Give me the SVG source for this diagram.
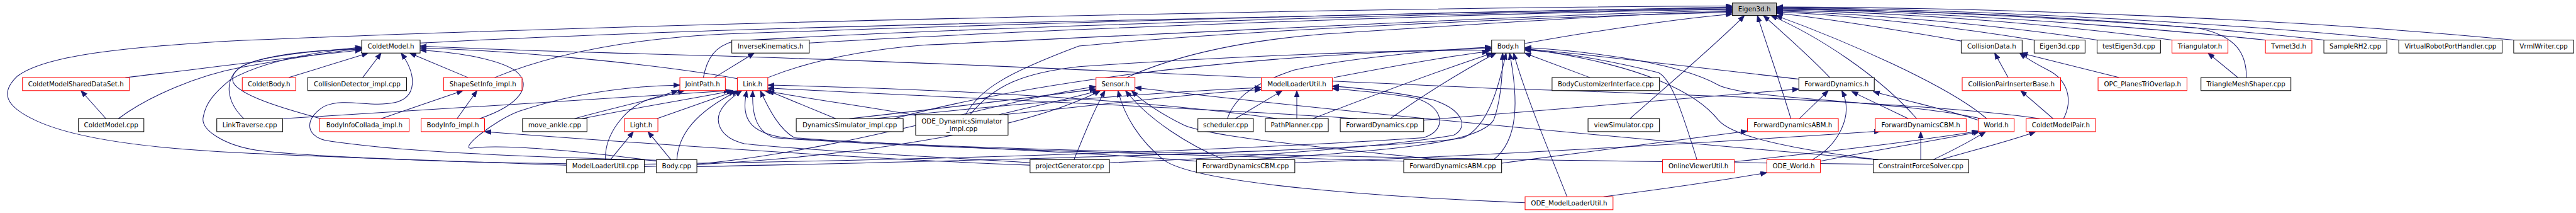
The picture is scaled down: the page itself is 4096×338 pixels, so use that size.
<svg xmlns="http://www.w3.org/2000/svg" width="4096" height="338" viewBox="0 0 4096 338">
<style>
.n rect{fill:#fff;stroke:#000;stroke-width:1.3}
.r rect{stroke:#f00}
.g rect{fill:#bfbfbf}
text{font-family:"DejaVu Sans",Verdana,sans-serif;font-size:13px;fill:#000;text-anchor:middle}
.e path{fill:none;stroke:#191970;stroke-width:1.3;marker-end:url(#ah)}
</style>
<defs>
<marker id="ah" markerUnits="userSpaceOnUse" markerWidth="14" markerHeight="11" refX="13" refY="5" orient="auto" viewBox="0 0 14 11">
<path d="M0,0 L13,5 L0,10 Z" fill="#191970" stroke="#191970" stroke-width="1"/>
</marker>
</defs>
<rect width="4096" height="338" fill="#fff"/>
<g transform="scale(0.7943)">
<g id="edges" class="e">
<path d="M1134,330 C900,322 600,312 440,303 C300,295 150,278 70,240 C10,212 0,185 35,152 C90,110 250,95 440,83 C1200,48 2800,14 3468,12"/>
<path d="M841,86 C1100,72 1500,58 1900,48 C2600,32 3200,16 3468,14"/>
<path d="M990,155 C1100,110 1250,78 1450,68 C2100,45 3000,20 3468,16"/>
<path d="M1408,155 C1415,118 1430,92 1470,82 C1900,56 3000,22 3468,18"/>
<path d="M1620,86 C2000,62 3000,24 3468,19"/>
<path d="M1537,155 C1600,130 1700,102 1850,90 C2500,60 3150,26 3468,21"/>
<path d="M2255,155 C2350,112 2480,82 2650,68 C3000,45 3300,26 3468,23"/>
<path d="M1933,229 C1960,180 2010,148 2160,92 C2500,58 3200,30 3468,25"/>
<path d="M3052,87 C3200,60 3380,35 3468,28"/>
<path d="M3263,237 C3350,160 3445,80 3492,31"/>
<path d="M3663,155 C3620,110 3565,62 3530,31"/>
<path d="M3585,237 C3562,160 3535,85 3518,31"/>
<path d="M3837,237 C3760,150 3640,72 3545,31"/>
<path d="M3977,237 C3900,170 3690,80 3555,31"/>
<path d="M3926,82 C3800,60 3650,36 3556,26"/>
<path d="M4072,80 C3900,52 3700,30 3556,24"/>
<path d="M4198,80 C4000,50 3750,28 3556,22"/>
<path d="M4348,80 C4100,46 3800,25 3556,20"/>
<path d="M4497,155 C4497,110 4480,72 4400,56 C4100,30 3800,20 3556,19"/>
<path d="M4535,80 C4200,45 3800,22 3556,17"/>
<path d="M4652,80 C4300,40 3800,20 3556,16"/>
<path d="M4802,80 C4400,40 3900,18 3556,15"/>
<path d="M5032,80 C4600,38 4000,15 3556,14"/>
<path d="M251,155 C380,140 600,112 724,100"/>
<path d="M212,237 L162,181"/>
<path d="M237,237 C300,190 400,150 480,135 C580,117 660,104 724,97"/>
<path d="M578,155 L737,106"/>
<path d="M726,155 L763,106"/>
<path d="M488,237 C455,205 445,160 483,133 C530,110 620,100 724,98"/>
<path d="M642,237 C560,215 480,190 467,165 C460,145 480,128 530,117 C600,104 680,98 724,96"/>
<path d="M960,237 C1040,210 1070,170 1030,140 C990,115 900,103 841,100"/>
<path d="M937,155 L820,106"/>
<path d="M1476,157 C1300,125 1000,100 841,96"/>
<path d="M1314,320 C1100,315 800,305 650,280 C610,270 610,235 650,212 C690,195 740,215 790,205 C835,195 835,150 803,106"/>
<path d="M1134,327 C900,325 600,312 513,300 C450,290 400,260 407,233 C412,205 430,185 460,160 C520,125 620,105 724,94"/>
<path d="M4083,237 C3900,210 3500,192 3000,177 C2500,155 1800,120 1300,108 C1100,102 950,98 841,92"/>
<path d="M763,237 L927,181"/>
<path d="M915,237 L955,181"/>
<path d="M1314,322 C1150,300 1000,288 945,296 C915,300 990,240 1040,222 C1150,185 1260,172 1361,170"/>
<path d="M1212,319 C1210,270 1250,215 1300,198 C1320,192 1340,187 1357,181"/>
<path d="M1430,155 L1510,106"/>
<path d="M1150,237 C1250,210 1320,195 1370,181"/>
<path d="M567,237 C800,220 1200,200 1462,181"/>
<path d="M1165,237 C1300,210 1400,195 1468,181"/>
<path d="M1315,237 L1472,182"/>
<path d="M1355,319 C1358,270 1390,225 1478,181"/>
<path d="M2062,325 C1900,315 1600,300 1490,287 C1440,275 1425,240 1450,210 C1460,198 1472,190 1485,181"/>
<path d="M2395,322 C2200,305 1800,288 1600,278 C1500,272 1482,240 1495,181"/>
<path d="M2810,322 C2400,310 1800,295 1550,275 C1510,262 1505,220 1507,181"/>
<path d="M3750,328 C3000,320 1900,302 1590,275 C1560,258 1540,220 1522,181"/>
<path d="M1673,237 L1537,181"/>
<path d="M1835,231 C1750,215 1620,198 1530,181"/>
<path d="M2557,237 C2300,200 1900,178 1537,170"/>
<path d="M2717,237 C2400,215 1900,195 1537,176"/>
<path d="M1222,319 L1268,263"/>
<path d="M1343,319 L1297,263"/>
<path d="M1700,237 C1900,215 2100,190 2194,178"/>
<path d="M1395,328 C1700,300 2000,200 2194,173"/>
<path d="M2000,229 C2080,210 2150,195 2200,181"/>
<path d="M2150,319 C2170,270 2190,220 2212,181"/>
<path d="M3053,405 C2800,395 2400,370 2330,320 C2280,280 2250,230 2238,181"/>
<path d="M2450,319 C2380,290 2300,240 2253,181"/>
<path d="M2880,319 C2600,290 2420,272 2370,250 C2320,225 2290,205 2265,181"/>
<path d="M3760,319 C3300,280 2700,225 2272,175"/>
<path d="M1290,333 C1700,320 2050,260 2203,181"/>
<path d="M2473,237 L2567,181"/>
<path d="M2596,237 L2596,181"/>
<path d="M1290,328 C1800,320 2400,305 2850,275 C2900,260 2890,210 2830,195 C2760,185 2710,180 2667,177"/>
<path d="M2221,325 C2500,315 2800,290 2910,270 C2940,255 2930,220 2870,200 C2800,185 2720,176 2667,172"/>
<path d="M1750,237 C2000,210 2300,185 2525,175"/>
<path d="M2010,229 C2200,210 2400,185 2525,179"/>
<path d="M2670,155 C2800,130 2900,112 2980,103"/>
<path d="M3183,155 L3052,106"/>
<path d="M1395,333 C2000,320 2800,300 2930,275 C2985,250 3005,150 3015,106"/>
<path d="M2783,237 C2850,190 2930,140 2995,106"/>
<path d="M2628,237 C2750,190 2900,135 2988,106"/>
<path d="M1790,237 C2000,180 2400,110 2986,97"/>
<path d="M1942,229 C1990,170 2050,145 2160,133 C2500,110 2800,100 2986,100"/>
<path d="M3137,393 C3100,300 3050,180 3030,106"/>
<path d="M3397,319 C3360,200 3343,157 3320,145 C3200,115 3100,102 3052,100"/>
<path d="M2990,319 C3040,280 3040,200 3022,106"/>
<path d="M3760,319 C3600,300 3470,275 3440,240 C3400,190 3300,130 3052,97"/>
<path d="M3965,237 C3800,200 3500,200 3440,170 C3350,120 3150,100 3052,95"/>
<path d="M3601,158 C3400,135 3150,105 3052,98"/>
<path d="M2457,237 C2470,200 2500,170 2590,140 C2700,115 2900,98 2986,94"/>
<path d="M2500,319 C2800,300 2960,285 2990,240 C3005,200 3008,150 3008,106"/>
<path d="M3602,237 L3660,181"/>
<path d="M3820,237 L3707,183"/>
<path d="M3628,319 C3680,290 3712,230 3687,181"/>
<path d="M3960,240 C3900,220 3800,197 3750,183"/>
<path d="M2850,240 C3200,210 3450,190 3601,178"/>
<path d="M3006,326 C3200,300 3400,275 3498,262"/>
<path d="M2592,325 C3000,310 3500,280 3765,262"/>
<path d="M3845,319 L3845,263"/>
<path d="M3870,319 C3910,300 3945,282 3975,263"/>
<path d="M3644,322 C3750,300 3880,280 3963,263"/>
<path d="M3472,323 C3650,305 3850,280 3960,262"/>
<path d="M3885,319 C3950,300 4030,280 4075,263"/>
<path d="M4020,155 L3993,106"/>
<path d="M4131,237 C4150,200 4140,160 4100,140 C4070,125 4055,115 4043,106"/>
<path d="M4242,155 L4046,106"/>
<path d="M4110,237 L4045,181"/>
<path d="M4480,155 L4420,106"/>
<path d="M3210,393 C3350,375 3450,360 3537,345"/>
<path d="M2062,330 C1800,320 1400,295 970,263"/>
</g>
<g id="n_eigen3d_h" class="n g"><rect x="3468" y="6" width="88" height="25"/><text x="3512" y="23">Eigen3d.h</text></g>
<g id="n_coldetmodel_h" class="n"><rect x="724" y="80" width="117" height="26"/><text x="782.5" y="97.5">ColdetModel.h</text></g>
<g id="n_inversekinematics_h" class="n"><rect x="1465" y="80" width="155" height="26"/><text x="1542.5" y="97.5">InverseKinematics.h</text></g>
<g id="n_body_h" class="n"><rect x="2986" y="80" width="66" height="26"/><text x="3019" y="97.5">Body.h</text></g>
<g id="n_collisiondata_h" class="n"><rect x="3926" y="80" width="122" height="26"/><text x="3987" y="97.5">CollisionData.h</text></g>
<g id="n_eigen3d_cpp" class="n"><rect x="4072" y="80" width="102" height="26"/><text x="4123" y="97.5">Eigen3d.cpp</text></g>
<g id="n_testeigen3d_cpp" class="n"><rect x="4198" y="80" width="127" height="26"/><text x="4261.5" y="97.5">testEigen3d.cpp</text></g>
<g id="n_triangulator_h" class="n r"><rect x="4348" y="80" width="112" height="26"/><text x="4404" y="97.5">Triangulator.h</text></g>
<g id="n_tvmet3d_h" class="n r"><rect x="4535" y="80" width="93" height="26"/><text x="4581.5" y="97.5">Tvmet3d.h</text></g>
<g id="n_samplerh2_cpp" class="n"><rect x="4652" y="80" width="126" height="26"/><text x="4715" y="97.5">SampleRH2.cpp</text></g>
<g id="n_virtualrobotporthandler_cpp" class="n"><rect x="4802" y="80" width="207" height="26"/><text x="4905.5" y="97.5">VirtualRobotPortHandler.cpp</text></g>
<g id="n_vrmlwriter_cpp" class="n"><rect x="5032" y="80" width="120" height="26"/><text x="5092" y="97.5">VrmlWriter.cpp</text></g>
<g id="n_coldetmodelshareddataset_h" class="n r"><rect x="45" y="155" width="214" height="26"/><text x="152" y="172.5">ColdetModelSharedDataSet.h</text></g>
<g id="n_coldetbody_h" class="n r"><rect x="485" y="155" width="107" height="26"/><text x="538.5" y="172.5">ColdetBody.h</text></g>
<g id="n_collisiondetector_impl_cpp" class="n"><rect x="616" y="155" width="198" height="26"/><text x="715" y="172.5">CollisionDetector_impl.cpp</text></g>
<g id="n_shapesetinfo_impl_h" class="n r"><rect x="888" y="155" width="157" height="26"/><text x="966.5" y="172.5">ShapeSetInfo_impl.h</text></g>
<g id="n_jointpath_h" class="n r"><rect x="1361" y="155" width="91" height="26"/><text x="1406.5" y="172.5">JointPath.h</text></g>
<g id="n_link_h" class="n r"><rect x="1476" y="155" width="61" height="26"/><text x="1506.5" y="172.5">Link.h</text></g>
<g id="n_sensor_h" class="n r"><rect x="2194" y="155" width="78" height="26"/><text x="2233" y="172.5">Sensor.h</text></g>
<g id="n_modelloaderutil_h" class="n r"><rect x="2525" y="155" width="142" height="26"/><text x="2596" y="172.5">ModelLoaderUtil.h</text></g>
<g id="n_bodycustomizerinterface_cpp" class="n"><rect x="3107" y="155" width="215" height="26"/><text x="3214.5" y="172.5">BodyCustomizerInterface.cpp</text></g>
<g id="n_forwarddynamics_h" class="n"><rect x="3601" y="155" width="151" height="26"/><text x="3676.5" y="172.5">ForwardDynamics.h</text></g>
<g id="n_collisionpairinserterbase_h" class="n r"><rect x="3928" y="155" width="197" height="26"/><text x="4026.5" y="172.5">CollisionPairInserterBase.h</text></g>
<g id="n_opc_planestrioverlap_h" class="n r"><rect x="4200" y="155" width="178" height="26"/><text x="4289" y="172.5">OPC_PlanesTriOverlap.h</text></g>
<g id="n_trianglemeshshaper_cpp" class="n"><rect x="4406" y="155" width="180" height="26"/><text x="4496" y="172.5">TriangleMeshShaper.cpp</text></g>
<g id="n_coldetmodel_cpp" class="n"><rect x="157" y="237" width="131" height="26"/><text x="222.5" y="254.5">ColdetModel.cpp</text></g>
<g id="n_linktraverse_cpp" class="n"><rect x="434" y="237" width="132" height="26"/><text x="500" y="254.5">LinkTraverse.cpp</text></g>
<g id="n_bodyinfocollada_impl_h" class="n r"><rect x="640" y="237" width="179" height="26"/><text x="729.5" y="254.5">BodyInfoCollada_impl.h</text></g>
<g id="n_bodyinfo_impl_h" class="n r"><rect x="843" y="237" width="127" height="26"/><text x="906.5" y="254.5">BodyInfo_impl.h</text></g>
<g id="n_move_ankle_cpp" class="n"><rect x="1046" y="237" width="129" height="26"/><text x="1110.5" y="254.5">move_ankle.cpp</text></g>
<g id="n_light_h" class="n r"><rect x="1250" y="237" width="67" height="26"/><text x="1283.5" y="254.5">Light.h</text></g>
<g id="n_dynamicssimulator_impl_cpp" class="n"><rect x="1594" y="237" width="214" height="26"/><text x="1701" y="254.5">DynamicsSimulator_impl.cpp</text></g>
<g id="n_ode_dynamicssimulator_impl_cpp" class="n"><rect x="1833" y="229" width="185" height="41"/><text x="1925.5" y="247">ODE_DynamicsSimulator</text><text x="1925.5" y="262">_impl.cpp</text></g>
<g id="n_scheduler_cpp" class="n"><rect x="2398" y="237" width="111" height="26"/><text x="2453.5" y="254.5">scheduler.cpp</text></g>
<g id="n_pathplanner_cpp" class="n"><rect x="2533" y="237" width="126" height="26"/><text x="2596" y="254.5">PathPlanner.cpp</text></g>
<g id="n_forwarddynamics_cpp" class="n"><rect x="2683" y="237" width="167" height="26"/><text x="2766.5" y="254.5">ForwardDynamics.cpp</text></g>
<g id="n_viewsimulator_cpp" class="n"><rect x="3179" y="237" width="143" height="26"/><text x="3250.5" y="254.5">viewSimulator.cpp</text></g>
<g id="n_forwarddynamicsabm_h" class="n r"><rect x="3498" y="237" width="182" height="26"/><text x="3589" y="254.5">ForwardDynamicsABM.h</text></g>
<g id="n_forwarddynamicscbm_h" class="n r"><rect x="3754" y="237" width="182" height="26"/><text x="3845" y="254.5">ForwardDynamicsCBM.h</text></g>
<g id="n_world_h" class="n r"><rect x="3960" y="237" width="72" height="26"/><text x="3996" y="254.5">World.h</text></g>
<g id="n_coldetmodelpair_h" class="n r"><rect x="4056" y="237" width="139" height="26"/><text x="4125.5" y="254.5">ColdetModelPair.h</text></g>
<g id="n_modelloaderutil_cpp" class="n"><rect x="1134" y="319" width="156" height="26"/><text x="1212" y="336.5">ModelLoaderUtil.cpp</text></g>
<g id="n_body_cpp" class="n"><rect x="1314" y="319" width="81" height="26"/><text x="1354.5" y="336.5">Body.cpp</text></g>
<g id="n_projectgenerator_cpp" class="n"><rect x="2062" y="319" width="159" height="26"/><text x="2141.5" y="336.5">projectGenerator.cpp</text></g>
<g id="n_forwarddynamicscbm_cpp" class="n"><rect x="2395" y="319" width="197" height="26"/><text x="2493.5" y="336.5">ForwardDynamicsCBM.cpp</text></g>
<g id="n_forwarddynamicsabm_cpp" class="n"><rect x="2810" y="319" width="196" height="26"/><text x="2908" y="336.5">ForwardDynamicsABM.cpp</text></g>
<g id="n_onlineviewerutil_h" class="n r"><rect x="3328" y="319" width="144" height="26"/><text x="3400" y="336.5">OnlineViewerUtil.h</text></g>
<g id="n_ode_world_h" class="n r"><rect x="3537" y="319" width="107" height="26"/><text x="3590.5" y="336.5">ODE_World.h</text></g>
<g id="n_constraintforcesolver_cpp" class="n"><rect x="3750" y="319" width="191" height="26"/><text x="3845.5" y="336.5">ConstraintForceSolver.cpp</text></g>
<g id="n_ode_modelloaderutil_h" class="n r"><rect x="3053" y="393" width="176" height="26"/><text x="3141" y="410.5">ODE_ModelLoaderUtil.h</text></g>
</g>
</svg>
